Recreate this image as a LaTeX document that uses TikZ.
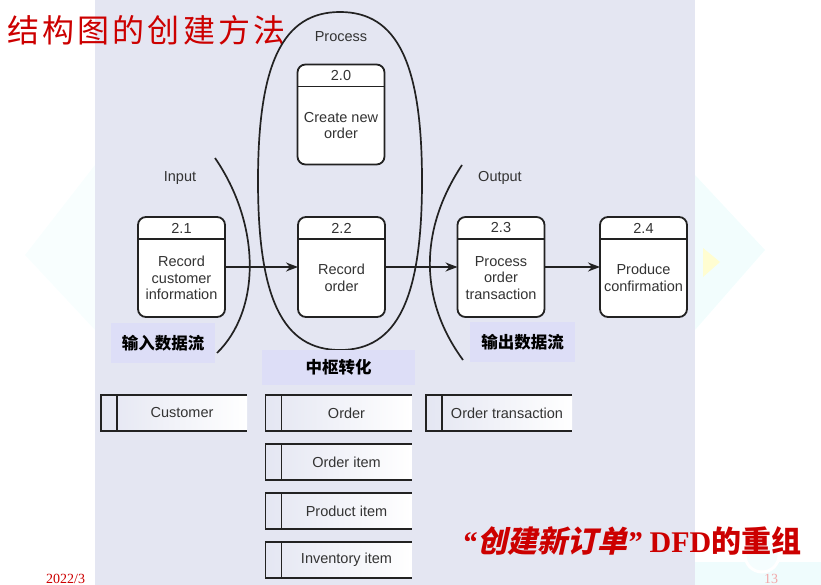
\documentclass[tikz,border=0pt]{standalone}
\usepackage{fontspec}
\setmainfont{Liberation Sans}
\newfontfamily\cjk{Noto Sans CJK SC}
\newfontfamily\cjktitle[LetterSpace=10]{Noto Sans CJK SC}
\newfontfamily\cjkslant[FakeSlant=0.22,BoldFeatures={FakeSlant=0.22}]{Noto Sans CJK SC}
\newfontfamily\dfdfont{Liberation Serif}
\usetikzlibrary{positioning, arrows.meta, calc}

\definecolor{panelcol}{HTML}{E4E6F2}
\definecolor{tagcol}{HTML}{DDDEF7}
\definecolor{titlered}{HTML}{CC0000}
\definecolor{linecol}{HTML}{222222}
\definecolor{textcol}{HTML}{333333}
\definecolor{fadecyan}{HTML}{EFFCFD}
\definecolor{pagepink}{HTML}{F2A8A8}

\tikzset{
  procbox/.style={draw=linecol, line width=1.8pt, rounded corners=8pt, fill=white,
    minimum width=87pt, minimum height=100pt, inner sep=0pt, outer sep=0pt},
  proctext/.style={text=textcol, font=\fontsize{14.5}{16.5}\selectfont, align=center, inner sep=0pt},
  flow/.style={draw=linecol, line width=1.5pt, -{Stealth[length=12pt,width=9pt]}},
  boundary/.style={draw=linecol, line width=1.7pt},
  storebox/.style={minimum width=146pt, minimum height=36pt, inner sep=0pt, outer sep=0pt,
    left color=panelcol, right color=white},
  storeline/.style={draw=linecol, line width=1.6pt},
  tag/.style={fill=tagcol, font=\cjk\bfseries\fontsize{16.5}{18}\selectfont, inner sep=0pt}
}

\begin{document}
\begin{tikzpicture}[x=1pt, y=-1pt]
  \useasboundingbox (0,0) rectangle (821,585);

  % Background
  \fill[fadecyan!45] (95,165) -- (25,255) -- (95,330) -- cycle;
  \fill[fadecyan!80] (695,175) -- (765,250) -- (695,330) -- cycle;
  \fill[yellow!18] (703,248) -- (720,262) -- (703,277) -- cycle;
  \fill[fadecyan] (695,562) rectangle (821,585);
  \draw[white, line width=3pt, fill=fadecyan!60] (762,555) circle (17);
  \node[anchor=base west, text=titlered, font=\dfdfont\fontsize{14}{14}\selectfont, inner sep=0pt] (date) at (46,583) {2022/3};
  \node[anchor=base, text=pagepink, font=\dfdfont\fontsize{14}{14}\selectfont, inner sep=0pt] (page) at (771,583) {13};
  \fill[panelcol] (95,0) rectangle (695,585);

  % Title
  \node[anchor=west, text=titlered, font=\cjktitle\fontsize{32}{32}\selectfont, inner sep=0pt] (title) at (7,30) {结构图的创建方法};

  % Boundaries
  \draw[boundary] (340,12) .. controls (282.6,12) and (258,63.7) .. (258,181)
    .. controls (258,298.3) and (282.6,350) .. (340,350)
    .. controls (397.4,350) and (422,298.3) .. (422,181)
    .. controls (422,63.7) and (397.4,12) .. cycle;
  \draw[boundary] (215,158) .. controls (261,225) and (261,310) .. (217,353);
  \draw[boundary] (462,165) .. controls (419,230) and (419,300) .. (463,360);

  % Labels
  \node[proctext] (lproc) at (341,37) {Process};
  \node[proctext] (lin) at (180,178) {Input};
  \node[proctext] (lout) at (500,178) {Output};

  % Processes
  \foreach \id/\num/\px/\py/\txt in {p20/2.0/341/114.5/{Create new\\order},
      p21/2.1/181.5/267/{Record\\customer\\information},
      p22/2.2/341.5/267/{Record\\order},
      p23/2.3/501/267/{Process\\order\\transaction},
      p24/2.4/643.5/267/{Produce\\confirmation}}
  {
    \node[procbox] (\id) at (\px,\py) {};
    \draw[linecol, line width=1.4pt] ([yshift=-22pt]\id.north west) -- ([yshift=-22pt]\id.north east);
    \node[proctext] at ([yshift=-11pt]\id.north) {\num};
    \node[proctext] at ([yshift=-11pt]\id.center) {\txt};
  }

  % Flows
  \draw[flow] (p21) -- (p22);
  \draw[flow] (p22) -- (p23);
  \draw[flow] (p23) -- (p24);

  % Tags
  \node[tag, minimum width=104pt, minimum height=40pt] (tin) at (163,343) {输入数据流};
  \node[tag, minimum width=153pt, minimum height=35pt] (tcore) at (338.5,367.5) {中枢转化};
  \node[tag, minimum width=105pt, minimum height=40pt] (tout) at (522.5,342) {输出数据流};

  % Data stores
  \foreach \id/\sx/\sy/\txt in {s1/174/413/Customer, s2/338.5/413/Order,
      s3/338.5/462/Order item, s4/338.5/511/Product item,
      s5/338.5/560/Inventory item, s6/499/413/Order transaction}
  {
    \node[storebox] (\id) at (\sx,\sy) {};
    \draw[storeline] (\id.north east) -- (\id.north west) -- (\id.south west) -- (\id.south east);
    \draw[storeline] ([xshift=16pt]\id.north west) -- ([xshift=16pt]\id.south west);
    \node[proctext] at ([xshift=8pt]\id.center) {\txt};
  }

  % Caption
  \node[anchor=west, text=titlered, inner sep=0pt] (caption) at (462,541)
    {{\dfdfont\bfseries\itshape\fontsize{30}{30}\selectfont “}{\cjkslant\bfseries\fontsize{30}{30}\selectfont 创建新订单}{\dfdfont\bfseries\itshape\fontsize{30}{30}\selectfont ”\ }{\dfdfont\bfseries\fontsize{30}{30}\selectfont DFD}{\cjk\bfseries\fontsize{30}{30}\selectfont 的重组}};
\end{tikzpicture}
\end{document}
